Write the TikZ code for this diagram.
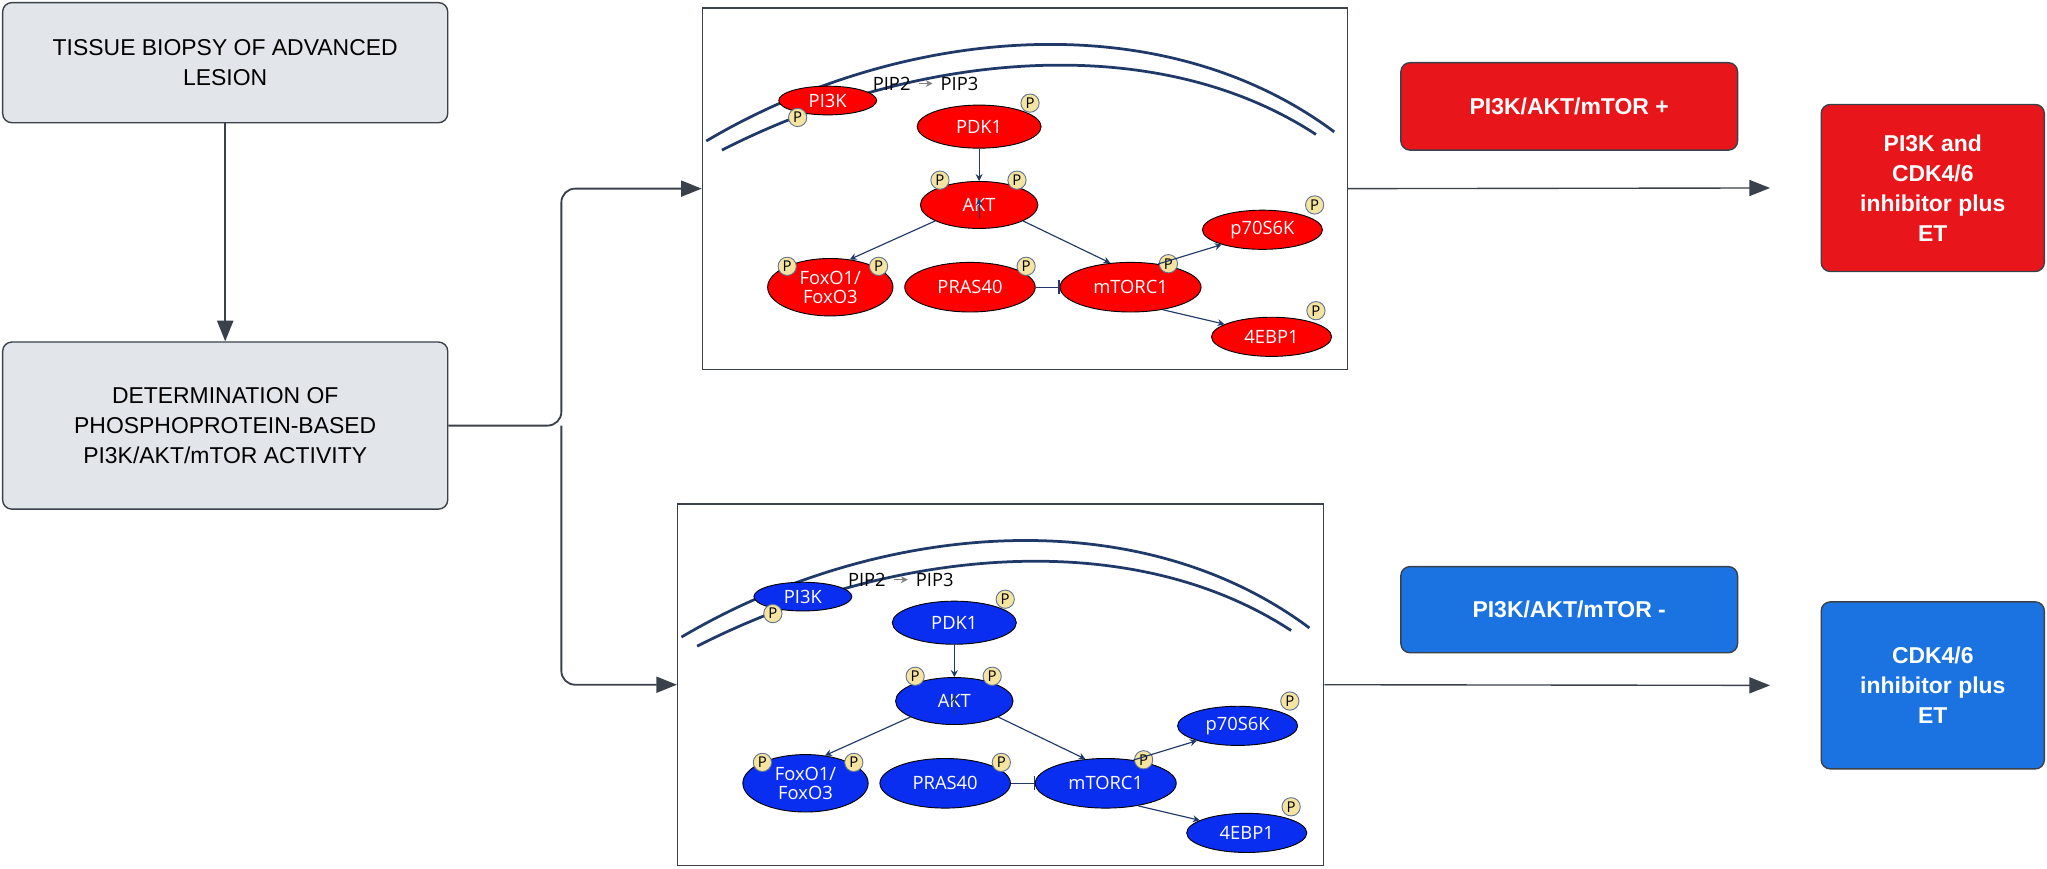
\documentclass[tikz,border=0pt]{standalone}
\usepackage{fontspec}
\setmainfont{Liberation Sans}
\newfontfamily\pwfont{Open Sans}
\usetikzlibrary{shapes.geometric,arrows.meta}
\definecolor{boxgray}{HTML}{E2E5E9}
\definecolor{edge}{HTML}{3A414A}
\definecolor{pred}{HTML}{E8161B}
\definecolor{pblue}{HTML}{1A73E0}
\definecolor{navy}{HTML}{1F3A68}
\definecolor{pyel}{HTML}{F5E3A0}
\definecolor{ered}{HTML}{FF0000}
\definecolor{eblue}{HTML}{0A2EF0}
\tikzset{
 graybox/.style={draw=edge,fill=boxgray,rounded corners=4pt,line width=0.6pt,align=center,font=\fontsize{10}{13}\selectfont,inner sep=0},
 colbox/.style={draw=edge,rounded corners=4pt,line width=0.6pt,align=center,text=white,font=\bfseries\fontsize{10}{13}\selectfont,inner sep=0},
 flow/.style={draw=edge,line width=0.8pt,-{Triangle[length=9pt,width=7pt]}},
 ell/.style={ellipse,draw=black,line width=0.4pt,text=white,inner sep=0,font=\pwfont\fontsize{8}{8.5}\selectfont,align=center},
 pcirc/.style={circle,draw=navy!70,fill=pyel,inner sep=0,minimum size=0.28cm,font=\pwfont\fontsize{6.5}{7}\selectfont},
 parr/.style={draw=navy,line width=0.5pt,-{Stealth[length=3pt,width=3pt]}},
 memb/.style={draw=navy,line width=1.2pt},
}
\newcommand\pway[3]{% prefix, colour, shift
\begin{scope}[shift={#3}]
\draw[memb] (3,102) .. controls (150,15) and (350,-5) .. (484,95);
\draw[memb] (15,109) .. controls (160,35) and (345,15) .. (470,97);
\node[ell,fill=#2,minimum width=1.5cm,minimum height=0.44cm] (#1pik) at (96,71) {PI3K};
\node[pcirc] (#1p1) at (73,84) {P};
\node[font=\pwfont\fontsize{8}{9}\selectfont] (#1pip2) at (145,58) {PIP2};
\node[font=\pwfont\fontsize{8}{9}\selectfont] (#1pip3) at (197,58) {PIP3};
\draw[draw=gray,line width=0.5pt,-{Stealth[length=3pt,width=3pt]}] (#1pip2) -- (#1pip3);
\node[ell,fill=#2,minimum width=1.9cm,minimum height=0.66cm] (#1pdk) at (212,91) {PDK1};
\node[pcirc] at (251,73) {P};
\node[ell,fill=#2,minimum width=1.8cm,minimum height=0.72cm] (#1akt) at (212,151) {AKT};
\node[pcirc] at (182,132) {P};
\node[pcirc] at (241,132) {P};
\draw[parr] (#1pdk) -- (#1akt);
\node[ell,fill=#2,minimum width=1.92cm,minimum height=0.88cm] (#1fox) at (98,214) {FoxO1/\\FoxO3};
\node[pcirc] at (65,198) {P};
\node[pcirc] at (135,198) {P};
\node[ell,fill=#2,minimum width=2cm,minimum height=0.76cm] (#1pras) at (205,214) {PRAS40};
\node[pcirc] at (248,198) {P};
\node[ell,fill=#2,minimum width=2.16cm,minimum height=0.76cm] (#1mt) at (328,214) {mTORC1};
\node[pcirc] at (357,196) {P};
\node[ell,fill=#2,minimum width=1.84cm,minimum height=0.6cm] (#1p70) at (429,170) {p70S6K};
\node[pcirc] at (469,151) {P};
\node[ell,fill=#2,minimum width=1.84cm,minimum height=0.6cm] (#1ebp) at (436,252) {4EBP1};
\node[pcirc] at (470,232) {P};
\draw[parr] (#1akt.200) -- (#1fox.55);
\draw[parr] (#1akt.south) ++(0,-8) -- ++(0,-15);
\draw[parr] (#1akt.-20) -- (#1mt.130);
\draw[draw=navy,line width=0.5pt,-{Bar[width=6pt]}] (#1pras) -- (#1mt);
\draw[parr] (#1mt.40) -- (#1p70.200);
\draw[parr] (#1mt.-35) -- (#1ebp.165);
\end{scope}}
\begin{document}
\begin{tikzpicture}[x=0.02cm,y=-0.02cm]
\useasboundingbox[fill=white] (0,0) rectangle (1568,665);
\node[graybox,minimum width=6.82cm,minimum height=1.84cm] (b1) at (172.5,48) {TISSUE BIOPSY OF ADVANCED\\LESION};
\node[graybox,minimum width=6.82cm,minimum height=2.56cm] (b2) at (172.5,326) {DETERMINATION OF\\PHOSPHOPROTEIN-BASED\\PI3K/AKT/mTOR ACTIVITY};
\draw[flow] (b1) -- (b2);
\node[draw=edge,line width=0.6pt,minimum width=9.88cm,minimum height=5.54cm,inner sep=0] (top) at (785,144.5) {};
\node[draw=edge,line width=0.6pt,minimum width=9.9cm,minimum height=5.54cm,inner sep=0] (bot) at (766.5,524.5) {};
\coordinate (split) at (430,326);
\draw[flow,rounded corners=6pt] (b2.east) -- (split) |- (top.west);
\draw[flow,rounded corners=6pt] (split) |- (bot.west);
\pway{r}{ered}{(538,6)}
\pway{b}{eblue}{(519,386)}
\node[colbox,fill=pred,minimum width=5.16cm,minimum height=1.34cm] (lp) at (1202,81.5) {PI3K/AKT/mTOR +};
\node[colbox,fill=pblue,minimum width=5.16cm,minimum height=1.32cm] (lm) at (1202,467) {PI3K/AKT/mTOR -};
\node[colbox,fill=pred,minimum width=3.42cm,minimum height=2.56cm] (rp) at (1480.5,144) {PI3K and\\CDK4/6\\inhibitor plus\\ET};
\node[colbox,fill=pblue,minimum width=3.42cm,minimum height=2.56cm] (rm) at (1480.5,525) {CDK4/6\\inhibitor plus\\ET};
\draw[flow,line width=0.6pt] (top.east) -- ([xshift=-22pt]rp.west);
\draw[flow,line width=0.6pt] (bot.east) -- ([xshift=-22pt]rm.west);
\end{tikzpicture}
\end{document}
